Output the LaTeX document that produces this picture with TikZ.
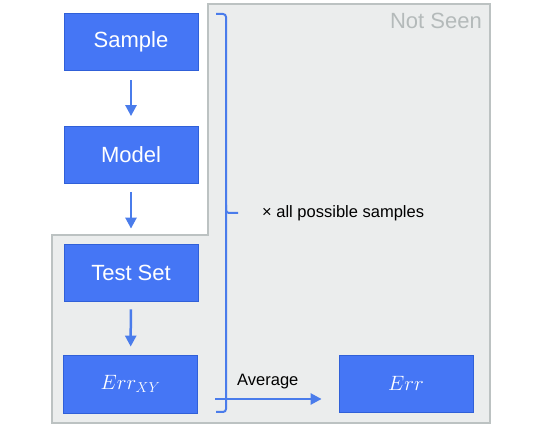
\documentclass[tikz,border=0pt]{standalone}
\usepackage{fontspec}
\setmainfont{Liberation Sans}
\usetikzlibrary{arrows.meta}
\definecolor{boxblue}{HTML}{4576F5}
\definecolor{boxedge}{HTML}{3060D8}
\definecolor{arrblue}{HTML}{4A7CEB}
\definecolor{panelfill}{HTML}{EBEDED}
\definecolor{paneledge}{HTML}{BCC2C2}
\definecolor{notseen}{HTML}{B4BABA}
\tikzset{
  bluebox/.style={draw=boxedge, line width=0.8pt, fill=boxblue, text=white,
    minimum width=134pt, minimum height=57pt, inner sep=0pt,
    font=\fontsize{22}{26}\selectfont},
  arr/.style={draw=arrblue, line width=2.5pt,
    -{Triangle[length=11pt,width=11pt]}},
  bracepath/.style={draw=arrblue, line width=2pt, rounded corners=3pt},
}
\begin{document}
\begin{tikzpicture}[x=1pt,y=-1pt]
\useasboundingbox (0,0) rectangle (550,425);
% panel
\draw[fill=panelfill, draw=paneledge, line width=1.2pt]
  (208,4) -- (490,4) -- (490,423) -- (52,423) -- (52,235) -- (208,235) -- cycle;
\node[anchor=north east, text=notseen, font=\fontsize{22}{26}\selectfont, inner sep=0pt]
  (notseen) at (482,13) {Not Seen};
% boxes
\node[bluebox] (sample) at (131,41.5) {Sample};
\node[bluebox] (model) at (131,155) {Model};
\node[bluebox] (test) at (131,272.5) {Test Set};
\node[bluebox, minimum height=58pt] (errxy) at (130.5,384) {\fontsize{21}{24}\selectfont$Err_{XY}$};
\node[bluebox] (err) at (406,383.5) {\fontsize{21}{24}\selectfont$Err$};
% arrows
\draw[arr, shorten <=10pt, shorten >=10pt] (sample) -- (model);
\draw[arr, shorten <=8pt, shorten >=15pt] (model) -- (test);
\draw[arr, shorten <=8pt, shorten >=8pt] (test) -- (errxy);
% brace
\draw[bracepath] (216,14) -- (226,14) -- (226,213) -- (238,213);
\draw[bracepath] (226,205) -- (226,412) -- (216,412);
\node[anchor=west, inner sep=0pt, font=\fontsize{16.5}{20}\selectfont] (allsamples) at (262,213) {× all possible samples};
% average arrow
\coordinate (avgstart) at (215,399);
\draw[arr, shorten >=17pt] (avgstart) -- (err.west |- avgstart);
\node[anchor=south west, inner sep=0pt, font=\fontsize{16.5}{20}\selectfont] (avg) at (237,389) {Average};
\end{tikzpicture}
\end{document}
